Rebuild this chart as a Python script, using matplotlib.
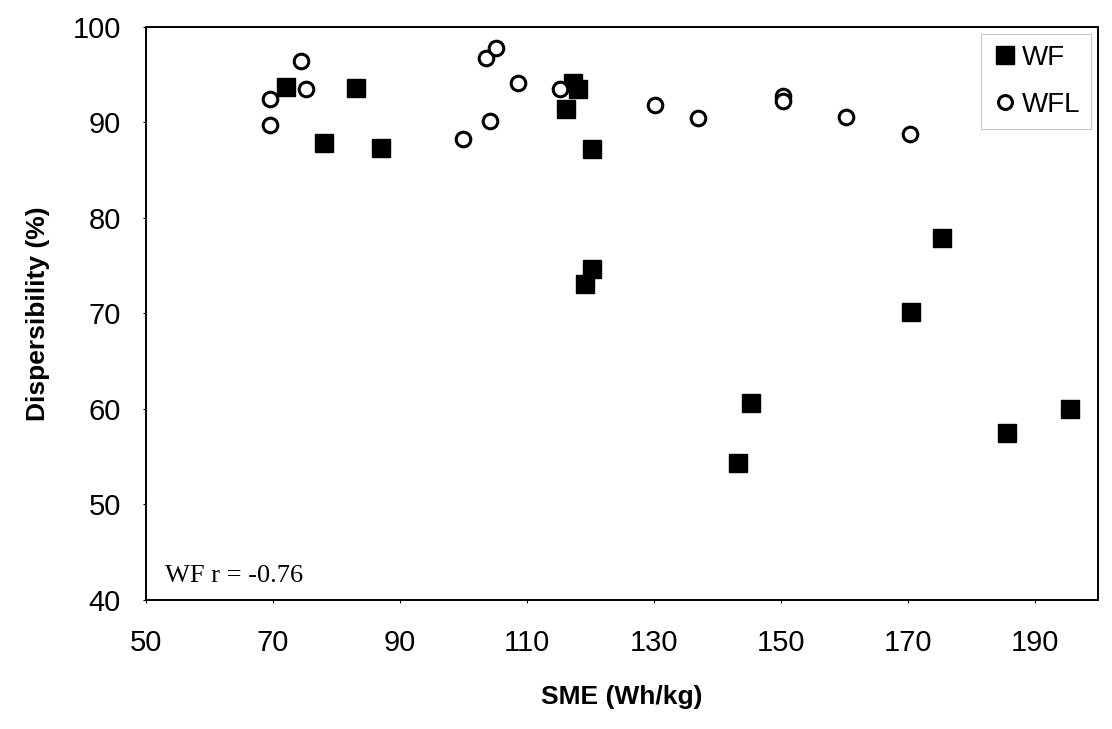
import matplotlib
matplotlib.use("Agg")
import matplotlib.pyplot as plt

# values
wf_sme = [72.0, 78.1, 83.1, 87.1, 116.2, 117.3, 118.1, 120.2, 120.2, 119.1,
          143.2, 145.3, 170.5, 175.5, 185.6, 195.6]
wf_disp = [93.7, 87.8, 93.6, 87.3, 91.4, 94.1, 93.5, 87.2, 74.7, 73.1,
           54.3, 60.6, 70.2, 77.9, 57.5, 60.0]

wfl_sme = [69.5, 69.5, 74.5, 75.2, 99.9, 103.5, 104.2, 105.2, 108.6, 115.2,
           130.2, 137.0, 150.3, 150.3, 160.3, 170.4]
wfl_disp = [92.5, 89.7, 96.4, 93.5, 88.3, 96.7, 90.2, 97.8, 94.1, 93.5,
            91.8, 90.5, 92.8, 92.3, 90.6, 88.8]

x_ticks = [50, 70, 90, 110, 130, 150, 170, 190]
y_ticks = [40, 50, 60, 70, 80, 90, 100]
annotation = "WF r = -0.76"

plt.rcParams['font.family'] = ['Liberation Sans', 'DejaVu Sans']

fig = plt.figure(figsize=(11.12, 7.29), dpi=100)
ax = fig.add_axes([0.1313, 0.177, 0.8561, 0.786])

ax.plot(wf_sme, wf_disp, linestyle='none', marker='s', markersize=13,
        color='black', label='WF')
ax.plot(wfl_sme, wfl_disp, linestyle='none', marker='o', markersize=10.5,
        markerfacecolor='white', markeredgecolor='black', markeredgewidth=2.2,
        label='WFL')

ax.set_xlim(50, 200)
ax.set_ylim(40, 100)
ax.set_xticks(x_ticks)
ax.set_yticks(y_ticks)
ax.tick_params(axis='both', labelsize=21, length=2, width=0.8)
ax.tick_params(axis='x', pad=19)
ax.tick_params(axis='y', pad=16)

for sp in ax.spines.values():
    sp.set_linewidth(1.4)
    sp.set_color('black')

ax.set_xlabel("SME (Wh/kg)", fontsize=19, fontweight='bold', labelpad=20)
ax.set_ylabel("Dispersibility (%)", fontsize=19, fontweight='bold', labelpad=16)

ax.text(0.02, 0.031, annotation, transform=ax.transAxes, fontsize=19,
        family=['Liberation Serif', 'DejaVu Serif'], va='baseline', ha='left')

leg = ax.legend(loc='upper right', fontsize=20, frameon=True, fancybox=False,
                borderaxespad=0.25, handletextpad=0.15, handlelength=0.9,
                borderpad=0.4, labelspacing=0.75, markerscale=0.95)
leg.get_frame().set_edgecolor('#bbbbbb')
leg.get_frame().set_linewidth(0.8)

fig.savefig("out.png", dpi=100)
plt.close(fig)
